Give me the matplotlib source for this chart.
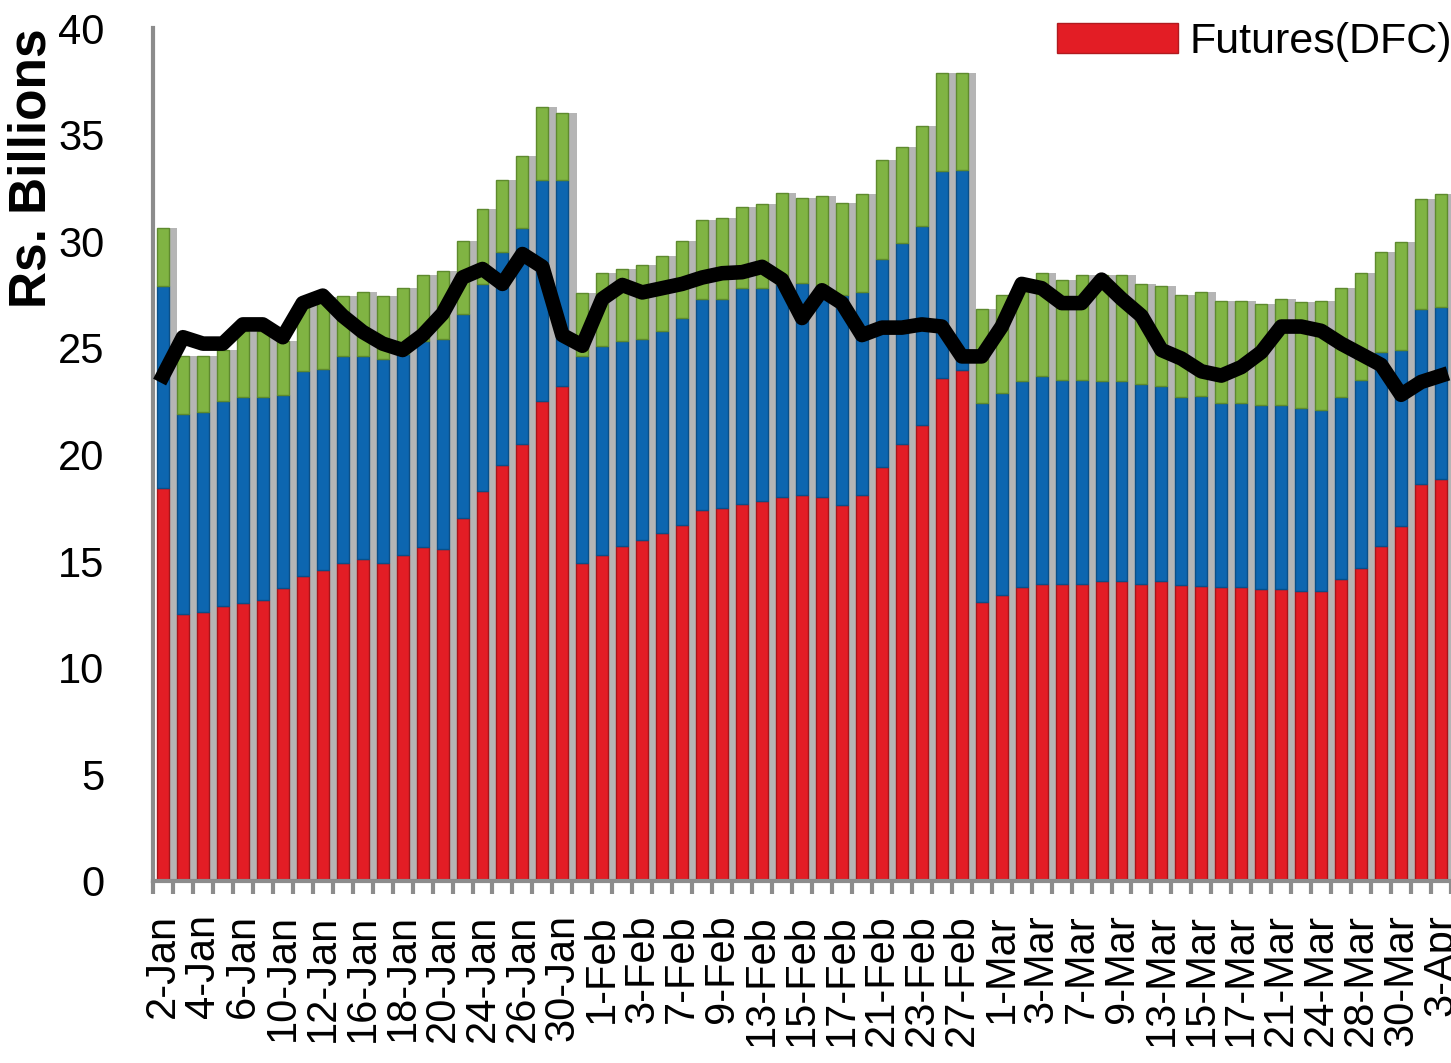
import numpy as np
import matplotlib
matplotlib.use("Agg")
import matplotlib.pyplot as plt

plt.rcParams['font.family'] = ['Liberation Sans', 'DejaVu Sans']

# trading days shown on the x axis
dates = ["2-Jan", "3-Jan", "4-Jan", "5-Jan", "6-Jan", "9-Jan", "10-Jan", "11-Jan",
         "12-Jan", "13-Jan", "16-Jan", "17-Jan", "18-Jan", "19-Jan", "20-Jan",
         "23-Jan", "24-Jan", "25-Jan", "26-Jan", "27-Jan", "30-Jan", "31-Jan",
         "1-Feb", "2-Feb", "3-Feb", "6-Feb", "7-Feb", "8-Feb", "9-Feb", "10-Feb",
         "13-Feb", "14-Feb", "15-Feb", "16-Feb", "17-Feb", "20-Feb", "21-Feb",
         "22-Feb", "23-Feb", "24-Feb", "27-Feb", "28-Feb", "1-Mar", "2-Mar",
         "3-Mar", "6-Mar", "7-Mar", "8-Mar", "9-Mar", "10-Mar", "13-Mar",
         "14-Mar", "15-Mar", "16-Mar", "17-Mar", "20-Mar", "21-Mar", "22-Mar",
         "24-Mar", "27-Mar", "28-Mar", "29-Mar", "30-Mar", "31-Mar", "3-Apr"]

# Futures(DFC), Rs. billions
futures = [18.45, 12.5, 12.6, 12.9, 13.05, 13.2, 13.75, 14.3, 14.6, 14.9, 15.1, 14.9,
           15.3, 15.65, 15.55, 17.0, 18.3, 19.5, 20.5, 22.5, 23.2, 14.9, 15.3, 15.7,
           16.0, 16.3, 16.7, 17.4, 17.5, 17.7, 17.8, 18.0, 18.1, 18.0, 17.65, 18.1,
           19.4, 20.5, 21.4, 23.6, 23.95, 13.1, 13.4, 13.8, 13.95, 13.95, 13.95,
           14.05, 14.05, 13.95, 14.05, 13.9, 13.85, 13.8, 13.8, 13.7, 13.7, 13.6,
           13.6, 14.15, 14.7, 15.7, 16.65, 18.6, 18.85]

# top of the blue segment (cumulative)
blue_top = [27.9, 21.9, 22.0, 22.5, 22.7, 22.7, 22.8, 23.9, 24.0, 24.6, 24.6, 24.5,
            24.7, 25.3, 25.4, 26.6, 28.0, 29.5, 30.6, 32.85, 32.85, 24.6, 25.1, 25.3,
            25.4, 25.8, 26.4, 27.3, 27.3, 27.8, 27.8, 28.0, 28.05, 27.9, 27.5, 27.6,
            29.15, 29.9, 30.7, 33.3, 33.35, 22.4, 22.9, 23.45, 23.7, 23.5, 23.5,
            23.45, 23.45, 23.3, 23.2, 22.7, 22.75, 22.4, 22.4, 22.3, 22.3, 22.2,
            22.1, 22.7, 23.5, 24.8, 24.9, 26.8, 26.9]

# top of the green segment (total height)
total = [30.6, 24.6, 24.6, 24.9, 25.8, 25.8, 25.3, 27.3, 27.4, 27.45, 27.6, 27.45,
         27.8, 28.4, 28.6, 30.0, 31.5, 32.85, 34.0, 36.3, 36.0, 27.55, 28.5, 28.7,
         28.9, 29.3, 30.0, 31.0, 31.1, 31.6, 31.75, 32.25, 32.05, 32.1, 31.8, 32.2,
         33.8, 34.4, 35.4, 37.9, 37.9, 26.8, 27.5, 28.1, 28.5, 28.2, 28.4, 28.4,
         28.4, 28.0, 27.9, 27.5, 27.6, 27.2, 27.2, 27.05, 27.3, 27.15, 27.2, 27.8,
         28.5, 29.5, 29.95, 32.0, 32.2]

# black line series
line = [23.7, 25.5, 25.2, 25.2, 26.1, 26.1, 25.5, 27.1, 27.45, 26.5, 25.75, 25.2,
        24.9, 25.6, 26.6, 28.3, 28.7, 28.0, 29.4, 28.8, 25.6, 25.1, 27.3, 27.95,
        27.6, 27.8, 28.0, 28.3, 28.5, 28.55, 28.8, 28.2, 26.4, 27.7, 27.1, 25.6,
        25.95, 25.95, 26.1, 26.0, 24.6, 24.6, 26.0, 28.0, 27.8, 27.1, 27.1, 28.2,
        27.3, 26.5, 24.9, 24.5, 23.9, 23.7, 24.1, 24.8, 26.0, 26.0, 25.8, 25.2,
        24.7, 24.2, 22.8, 23.4, 23.7]

x = np.arange(len(dates))
futures = np.array(futures)
blue_top = np.array(blue_top)
total = np.array(total)
blue = blue_top - futures
green = total - blue_top

fig = plt.figure(figsize=(14.51, 10.63), dpi=100)
ax = fig.add_axes([153 / 1451, 182 / 1063, 1 - 153 / 1451, 853 / 1063])

# grey depth behind the bars
ax.bar(x + 0.5, total, width=0.44, color="#b5b5b5", zorder=1)
ax.bar(x, futures, width=0.6, color="#e31d25", edgecolor="#a81419", linewidth=1, zorder=2)
ax.bar(x, blue, width=0.6, bottom=futures, color="#0d66b0", edgecolor="#0a4f88",
       linewidth=1, zorder=2)
ax.bar(x, green, width=0.6, bottom=blue_top, color="#80b443", edgecolor="#5e8a2e",
       linewidth=1, zorder=2)
ax.plot(x, line, color="black", lw=10.5, solid_joinstyle="round", zorder=4)

ax.set_xlim(-0.5, 64.4)
ax.set_ylim(0, 40)
ax.set_yticks(range(0, 41, 5))
ax.tick_params(axis="y", length=0, pad=35, labelsize=30)

ax.set_xticks(x[::2])
ax.set_xticklabels(dates[::2], rotation=90)
ax.set_xticks(np.arange(-0.5, len(dates), 1), minor=True)
ax.tick_params(axis="x", which="major", length=0, pad=24, labelsize=30)
ax.tick_params(axis="x", which="minor", length=9, width=3, color="#8c8c8c")

for side in ["top", "right"]:
    ax.spines[side].set_visible(False)
for side in ["left", "bottom"]:
    ax.spines[side].set_color("#8c8c8c")
    ax.spines[side].set_linewidth(3)

ax.set_ylabel("Rs. Billions", fontsize=37, fontweight="bold", va="center")
ax.yaxis.set_label_coords(-0.093, 0.836)

handle = plt.Rectangle((0, 0), 1, 1, facecolor="#e31d25", edgecolor="#b01a1f")
fig.legend([handle], ["Futures(DFC)"], loc="upper left",
           bbox_to_anchor=(1057 / 1451, 1 - 22 / 1063), frameon=False,
           fontsize=31, handlelength=2.8, handleheight=0.7, handletextpad=0.28,
           borderpad=0, borderaxespad=0)

fig.savefig("out.png", dpi=100)
